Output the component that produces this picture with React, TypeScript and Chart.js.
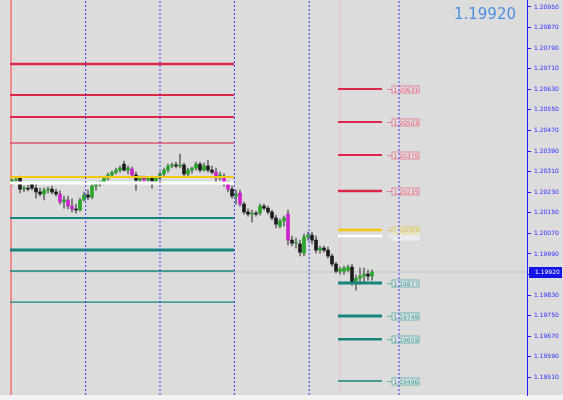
import React, { useEffect, useRef } from "react";
import { Chart, registerables } from "chart.js";

Chart.register(...registerables);

// ---- data ----
const opens = [1.20270,1.20277,1.20285,1.20242,1.20246,1.20262,1.20246,1.20231,1.20223,1.20238,1.20242,1.20231,1.20223,1.20192,1.20200,1.20176,1.20165,1.20161,1.20200,1.20219,1.20211,1.20254,1.20262,1.20270,1.20285,1.20297,1.20308,1.20316,1.20339,1.20316,1.20320,1.20297,1.20277,1.20285,1.20277,1.20285,1.20273,1.20285,1.20301,1.20316,1.20332,1.20336,1.20332,1.20336,1.20301,1.20316,1.20324,1.20339,1.20316,1.20332,1.20316,1.20308,1.20285,1.20293,1.20266,1.20242,1.20215,1.20227,1.20184,1.20153,1.20145,1.20149,1.20149,1.20176,1.20168,1.20153,1.20130,1.20098,1.20118,1.20145,1.20044,1.20032,1.20029,1.19993,1.20056,1.20063,1.20044,1.20005,1.20013,1.20005,1.19982,1.19951,1.19923,1.19923,1.19927,1.19939,1.19881,1.19896,1.19904,1.19912,1.19904];
const highs = [1.20281,1.20289,1.20293,1.20254,1.20258,1.20270,1.20262,1.20246,1.20246,1.20250,1.20254,1.20242,1.20235,1.20215,1.20215,1.20204,1.20184,1.20207,1.20231,1.20238,1.20266,1.20270,1.20273,1.20293,1.20304,1.20312,1.20324,1.20332,1.20351,1.20332,1.20328,1.20308,1.20293,1.20293,1.20289,1.20293,1.20289,1.20308,1.20324,1.20339,1.20343,1.20347,1.20378,1.20343,1.20324,1.20328,1.20347,1.20347,1.20343,1.20355,1.20332,1.20324,1.20308,1.20301,1.20273,1.20254,1.20238,1.20238,1.20192,1.20165,1.20161,1.20157,1.20184,1.20184,1.20176,1.20161,1.20141,1.20126,1.20137,1.20161,1.20060,1.20052,1.20044,1.20067,1.20075,1.20075,1.20060,1.20021,1.20021,1.20017,1.19990,1.19958,1.19939,1.19943,1.19947,1.19951,1.19908,1.19935,1.19935,1.19927,1.19927];
const lows = [1.20258,1.20266,1.20227,1.20231,1.20235,1.20238,1.20207,1.20215,1.20200,1.20227,1.20223,1.20215,1.20184,1.20168,1.20165,1.20153,1.20149,1.20157,1.20196,1.20200,1.20204,1.20238,1.20254,1.20262,1.20277,1.20289,1.20301,1.20308,1.20312,1.20301,1.20289,1.20238,1.20266,1.20270,1.20266,1.20246,1.20266,1.20277,1.20293,1.20308,1.20324,1.20324,1.20324,1.20293,1.20293,1.20304,1.20316,1.20308,1.20312,1.20308,1.20301,1.20270,1.20277,1.20254,1.20231,1.20207,1.20184,1.20176,1.20145,1.20137,1.20114,1.20137,1.20141,1.20161,1.20145,1.20122,1.20091,1.20091,1.20098,1.20025,1.20021,1.20013,1.19982,1.19982,1.20044,1.20029,1.19993,1.19993,1.19997,1.19974,1.19943,1.19916,1.19912,1.19912,1.19920,1.19869,1.19849,1.19873,1.19881,1.19888,1.19888];
const closes = [1.20277,1.20281,1.20242,1.20246,1.20242,1.20246,1.20231,1.20223,1.20238,1.20242,1.20231,1.20223,1.20192,1.20200,1.20176,1.20165,1.20161,1.20200,1.20219,1.20211,1.20254,1.20262,1.20270,1.20285,1.20297,1.20308,1.20316,1.20324,1.20316,1.20324,1.20297,1.20277,1.20285,1.20277,1.20285,1.20273,1.20285,1.20301,1.20316,1.20332,1.20336,1.20332,1.20336,1.20301,1.20316,1.20324,1.20339,1.20316,1.20332,1.20316,1.20308,1.20285,1.20297,1.20266,1.20242,1.20215,1.20223,1.20184,1.20153,1.20145,1.20149,1.20145,1.20176,1.20168,1.20153,1.20130,1.20106,1.20118,1.20130,1.20044,1.20032,1.20036,1.19997,1.20056,1.20063,1.20044,1.20005,1.20013,1.20005,1.19982,1.19951,1.19923,1.19931,1.19935,1.19939,1.19881,1.19896,1.19904,1.19912,1.19904,1.19920];
const magentaBars = [12, 14, 15, 30, 33, 51, 53, 54, 57, 69];

const yTicks = [1.20950,1.20870,1.20790,1.20710,1.20630,1.20550,1.20470,1.20390,1.20310,1.20230,1.20150,1.20070,1.19990,1.19910,1.19830,1.19750,1.19670,1.19590,1.19510];
const yMin = 1.19442;
const yMax = 1.20977;
const xMin = -0.5;
const xMax = 128.75;
const currentPrice = 1.19920;

const leftLevels = [1.20728, 1.20608, 1.20522, 1.20421, 1.20289, 1.20266, 1.20130, 1.20005, 1.19924, 1.19803];
const leftKinds = ["r", "r", "r", "lr", "y", "w", "t", "t", "t", "t"];
const rightLevels = [1.20631, 1.20503, 1.20375, 1.20235, 1.20083, 1.20060, 1.19877, 1.19749, 1.19659, 1.19496];
const rightKinds = ["r", "r", "r", "r", "y", "w", "t", "t", "t", "t"];
const sessionLines = [18.4, 37, 55.6, 74.3, 96.75];
const leftSpan = [-0.5, 55.5];
const rightSpan = [81.5, 92.5];
const labelSpan = [93.75, 95, 101.75];
const frameLines = [-0.25, 82];

// ---- styles ----
const palette: Record<string, string> = { r: "#dc2846", lr: "#d8566a", y: "#f2c811", w: "#ffffff", t: "#17847f" };
const labelPalette: Record<string, string> = { r: "#e8506a", lr: "#e8506a", y: "#e0bc1a", w: "#ffffff", t: "#2f9e9a" };
const leftWidths = [2.5, 2, 2, 1.5, 2, 3, 2, 3, 1.5, 1.2];
const rightWidths = [2, 2, 2, 2.5, 2.5, 2.5, 3, 3, 2.5, 1.5];
const frameColors = ["#ef8c8c", "#e3c6c6"];
const frameWidths = [2, 1];

export default function App() {
  const ref = useRef<HTMLCanvasElement | null>(null);

  useEffect(() => {
    if (!ref.current) return;
    const idx = opens.map((_, i) => i);
    const bodyColors = idx.map((i) =>
      closes[i] >= opens[i] ? "#2aa62a" : magentaBars.includes(i) ? "#cc22cc" : "#1c1c1c"
    );

    const lineDs = (pts: { x: number; y: number }[], color: string, width: number, order: number, dash: number[] = []) => ({
      type: "line" as const,
      data: pts,
      borderColor: color,
      borderWidth: width,
      borderDash: dash,
      pointRadius: 0,
      fill: false,
      order,
      tension: 0,
    });

    const datasets: any[] = [];
    sessionLines.forEach((v) =>
      datasets.push(lineDs([{ x: v, y: yMin }, { x: v, y: yMax }], "#3b3bff", 1, 0, [2, 2]))
    );
    leftLevels.forEach((p, i) =>
      datasets.push(lineDs([{ x: leftSpan[0], y: p }, { x: leftSpan[1], y: p }], palette[leftKinds[i]], leftWidths[i], 1))
    );
    rightLevels.forEach((p, i) =>
      datasets.push(lineDs([{ x: rightSpan[0], y: p }, { x: rightSpan[1], y: p }], palette[rightKinds[i]], rightWidths[i], 1))
    );
    frameLines.forEach((v, i) =>
      datasets.push(lineDs([{ x: v, y: yMin }, { x: v, y: yMax }], frameColors[i], frameWidths[i], 5))
    );
    datasets.push(lineDs([{ x: xMin, y: currentPrice }, { x: xMax, y: currentPrice }], "#c4c4c4", 1, 6));
    datasets.push({
      type: "bar",
      data: idx.map((i) => ({ x: i, y: [opens[i], closes[i]] })),
      backgroundColor: bodyColors,
      barThickness: 3,
      minBarLength: 1,
      grouped: false,
      borderWidth: 0,
      order: 2,
    });
    datasets.push({
      type: "bar",
      data: idx.map((i) => ({ x: i, y: [lows[i], highs[i]] })),
      backgroundColor: "#6a6a6a",
      barThickness: 1,
      grouped: false,
      borderWidth: 0,
      order: 3,
    });

    const bg = {
      id: "bg",
      beforeDraw(chart: any) {
        const { ctx, width, height, chartArea } = chart;
        ctx.save();
        ctx.fillStyle = "#dcdcdc";
        ctx.fillRect(0, 0, width, chartArea.bottom);
        ctx.fillStyle = "#f3f3f3";
        ctx.fillRect(0, chartArea.bottom, width, height - chartArea.bottom);
        ctx.restore();
      },
    };

    const labels = {
      id: "levelLabels",
      beforeDatasetsDraw(chart: any) {
        const { ctx, scales } = chart;
        const x = scales.x, y = scales.y;
        const xs = x.getPixelForValue(labelSpan[0]);
        const x0 = x.getPixelForValue(labelSpan[1]);
        const x1 = x.getPixelForValue(labelSpan[2]);
        ctx.save();
        ctx.font = '6px "DejaVu Sans"';
        ctx.textBaseline = "middle";
        rightLevels.forEach((p, i) => {
          const c = labelPalette[rightKinds[i]];
          const py = Math.round(y.getPixelForValue(p)) + 0.5;
          ctx.strokeStyle = c;
          ctx.globalAlpha = 0.6;
          ctx.lineWidth = 1;
          ctx.beginPath();
          ctx.moveTo(xs, py);
          ctx.lineTo(x0, py);
          ctx.stroke();
          ctx.fillStyle = "rgba(255,255,255,0.25)";
          ctx.fillRect(x0, py - 3.5, x1 - x0, 7);
          ctx.strokeRect(x0, py - 3.5, x1 - x0, 7);
          ctx.globalAlpha = 1;
          ctx.fillStyle = c;
          ctx.fillText(p.toFixed(5), x0 + 1.5, py + 0.5);
        });
        ctx.restore();
      },
    };

    const overlay = {
      id: "overlay",
      afterDraw(chart: any) {
        const { ctx, scales, chartArea, width } = chart;
        const y = scales.y;
        const py = Math.round(y.getPixelForValue(currentPrice));
        ctx.save();
        ctx.fillStyle = "#1414e6";
        ctx.fillRect(chartArea.right + 2, py - 5, width - chartArea.right - 3, 11);
        ctx.fillStyle = "#ffffff";
        ctx.font = '6px "DejaVu Sans"';
        ctx.textBaseline = "middle";
        ctx.fillText(currentPrice.toFixed(5), chartArea.right + 8, py + 0.5);
        ctx.fillStyle = "#4a8fe0";
        ctx.font = '15px "DejaVu Sans"';
        ctx.textAlign = "right";
        ctx.textBaseline = "alphabetic";
        ctx.fillText(currentPrice.toFixed(5), 516, 19);
        ctx.restore();
      },
    };

    const chart = new Chart(ref.current, {
      type: "bar",
      data: { datasets },
      options: {
        animation: false,
        responsive: true,
        maintainAspectRatio: false,
        devicePixelRatio: 1,
        events: [],
        layout: { padding: { left: 10, right: 0, top: 0, bottom: 5 } },
        plugins: { legend: { display: false }, tooltip: { enabled: false } },
        scales: {
          x: { type: "linear", min: xMin, max: xMax, offset: false, display: false },
          y: {
            type: "linear",
            position: "right",
            min: yMin,
            max: yMax,
            afterBuildTicks: (scale: any) => {
              scale.ticks = yTicks.map((v) => ({ value: v }));
            },
            afterFit: (scale: any) => {
              scale.width = 36;
              scale.paddingTop = 0;
              scale.paddingBottom = 0;
            },
            grid: { display: true, drawOnChartArea: false, drawTicks: true, tickLength: 4, color: "#2020ff" },
            border: { display: true, color: "#2020ff", width: 1 },
            ticks: {
              autoSkip: false,
              color: "#2a2aff",
              padding: 3,
              font: { size: 6, family: "DejaVu Sans" },
              callback: (v: any) => Number(v).toFixed(5),
            },
          },
        },
      } as any,
      plugins: [bg, labels, overlay],
    });
    return () => chart.destroy();
  }, []);

  return (
    <div style={{ position: "fixed", left: 0, top: 0, width: 563, height: 400 }}>
      <canvas ref={ref} />
    </div>
  );
}
